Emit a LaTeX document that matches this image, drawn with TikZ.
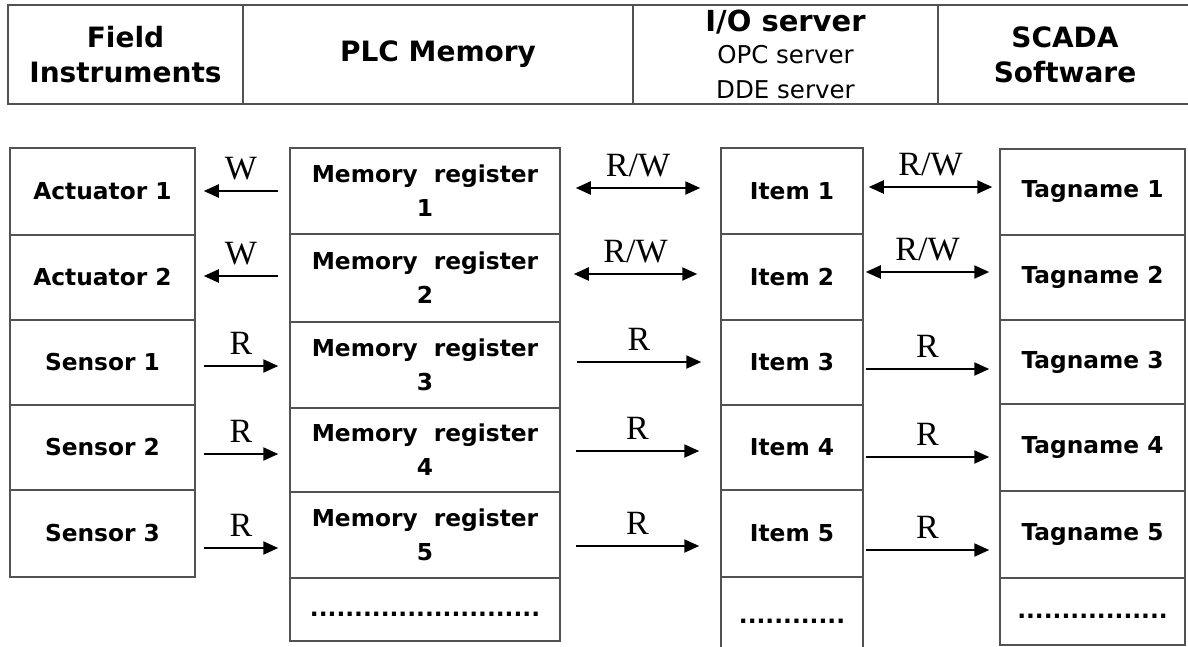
\documentclass[tikz,border=0pt]{standalone}
\usepackage{fontspec}
\setmainfont{DejaVu Sans}
\newfontfamily\labelfont{Liberation Serif}
\usetikzlibrary{arrows.meta}

\begin{document}
\begin{tikzpicture}[x=1pt,y=-1pt,
  frame/.style={draw=black!68, line width=1.5pt},
  cell/.style={frame, rectangle, inner sep=0pt, align=center,
    font=\fontsize{23.3}{34}\selectfont\bfseries},
  dotrow/.style={frame, rectangle, inner sep=0pt, text height=13pt, text depth=0pt,
    font=\fontsize{23.3}{34}\selectfont\bfseries},
  head/.style={frame, rectangle, inner sep=0pt, align=center,
    minimum height=99pt, font=\fontsize{28}{35}\selectfont\bfseries},
  tip/.tip={Triangle[length=15pt,width=13pt]},
  flow/.style={line width=2.2pt, -tip},
  both/.style={line width=2.2pt, tip-tip},
  lbl/.style={font=\fontsize{34}{34}\selectfont\labelfont, anchor=base,
    inner sep=0pt, yshift=12pt}
]
\useasboundingbox (0,0) rectangle (1188,646);

% header row
\node[head, minimum width=235pt] (h1) at (125.5,54.5) {Field\\Instruments};
\node[head, minimum width=390pt] (h2) at (438,54.5) {PLC Memory};
\node[head, minimum width=305pt] (h3) at (785.5,54.5)
  {{\fontsize{29}{35}\selectfont I/O server}\\[-3pt]
   {\fontsize{24.5}{31}\selectfont\mdseries OPC server}\\
   {\fontsize{24.5}{31}\selectfont\mdseries DDE server}};
\node[head, minimum width=254pt] (h4) at (1065,54.5) {SCADA\\Software};

% field instruments
\node[cell, minimum width=185pt, minimum height=87pt] (a1) at (102.5,191.5) {Actuator 1};
\node[cell, minimum width=185pt, minimum height=85pt] (a2) at (102.5,277.5) {Actuator 2};
\node[cell, minimum width=185pt, minimum height=85pt] (s1) at (102.5,362.5) {Sensor 1};
\node[cell, minimum width=185pt, minimum height=85pt] (s2) at (102.5,447.5) {Sensor 2};
\node[cell, minimum width=185pt, minimum height=87pt] (s3) at (102.5,533.5) {Sensor 3};

% PLC memory registers
\node[cell, minimum width=270pt, minimum height=86pt] (m1) at (425,191) {Memory\ \ register\\1};
\node[cell, minimum width=270pt, minimum height=88pt] (m2) at (425,278) {Memory\ \ register\\2};
\node[cell, minimum width=270pt, minimum height=86pt] (m3) at (425,365) {Memory\ \ register\\3};
\node[cell, minimum width=270pt, minimum height=84pt] (m4) at (425,450) {Memory\ \ register\\4};
\node[cell, minimum width=270pt, minimum height=86pt] (m5) at (425,535) {Memory\ \ register\\5};
\node[dotrow, minimum width=270pt, minimum height=63pt] (m6) at (425,609.5) {..........................};

% I/O server items
\node[cell, minimum width=142pt, minimum height=86pt] (i1) at (792,191) {Item 1};
\node[cell, minimum width=142pt, minimum height=86pt] (i2) at (792,277) {Item 2};
\node[cell, minimum width=142pt, minimum height=85pt] (i3) at (792,362.5) {Item 3};
\node[cell, minimum width=142pt, minimum height=85pt] (i4) at (792,447.5) {Item 4};
\node[cell, minimum width=142pt, minimum height=87pt] (i5) at (792,533.5) {Item 5};
\node[dotrow, minimum width=142pt, minimum height=80pt] (i6) at (792,617) {............};

% SCADA tagnames
\node[cell, minimum width=185pt, minimum height=86pt] (t1) at (1092.5,192) {Tagname 1};
\node[cell, minimum width=185pt, minimum height=85pt] (t2) at (1092.5,277.5) {Tagname 2};
\node[cell, minimum width=185pt, minimum height=84pt] (t3) at (1092.5,362) {Tagname 3};
\node[cell, minimum width=185pt, minimum height=87pt] (t4) at (1092.5,447.5) {Tagname 4};
\node[cell, minimum width=185pt, minimum height=87pt] (t5) at (1092.5,534.5) {Tagname 5};
\node[dotrow, minimum width=185pt, minimum height=67pt] (t6) at (1092.5,611.5) {.................};

% field <-> PLC
\draw[flow] ([xshift=-11pt]m1.west) -- ([xshift=8pt,yshift=0.5pt]a1.east) node[lbl, midway] {W};
\draw[flow] ([xshift=-11pt,yshift=2pt]m2.west) -- ([xshift=8pt,yshift=1.5pt]a2.east) node[lbl, midway] {W};
\draw[flow] ([xshift=8pt,yshift=-3.5pt]s1.east) -- ([xshift=-11pt,yshift=-1pt]m3.west) node[lbl, midway] {R};
\draw[flow] ([xshift=8pt,yshift=-6.5pt]s2.east) -- ([xshift=-11pt,yshift=-4pt]m4.west) node[lbl, midway] {R};
\draw[flow] ([xshift=8pt,yshift=-14.5pt]s3.east) -- ([xshift=-11pt,yshift=-13pt]m5.west) node[lbl, midway] {R};

% PLC <-> I/O server
\draw[both] ([xshift=15pt,yshift=3pt]m1.east) -- ([xshift=-20pt,yshift=3pt]i1.west) node[lbl, midway] {R/W};
\draw[both] ([xshift=13pt,yshift=4pt]m2.east) -- ([xshift=-23pt,yshift=3pt]i2.west) node[lbl, midway] {R/W};
\draw[flow] ([xshift=16pt,yshift=3pt]m3.east) -- ([xshift=-19pt,yshift=0.5pt]i3.west) node[lbl, midway] {R};
\draw[flow] ([xshift=15pt,yshift=-1pt]m4.east) -- ([xshift=-21pt,yshift=-3.5pt]i4.west) node[lbl, midway] {R};
\draw[flow] ([xshift=15pt,yshift=-11pt]m5.east) -- ([xshift=-21pt,yshift=-12.5pt]i5.west) node[lbl, midway] {R};

% I/O server <-> SCADA
\draw[both] ([xshift=5pt,yshift=4pt]i1.east) -- ([xshift=-7pt,yshift=5pt]t1.west) node[lbl, midway] {R/W};
\draw[both] ([xshift=2pt,yshift=5pt]i2.east) -- ([xshift=-10pt,yshift=5.5pt]t2.west) node[lbl, midway] {R/W};
\draw[flow] ([xshift=2pt,yshift=-6.5pt]i3.east) -- ([xshift=-10pt,yshift=-7pt]t3.west) node[lbl, midway] {R};
\draw[flow] ([xshift=2pt,yshift=-9.5pt]i4.east) -- ([xshift=-10pt,yshift=-9.5pt]t4.west) node[lbl, midway] {R};
\draw[flow] ([xshift=2pt,yshift=-16.5pt]i5.east) -- ([xshift=-10pt,yshift=-15.5pt]t5.west) node[lbl, midway] {R};
\end{tikzpicture}
\end{document}
